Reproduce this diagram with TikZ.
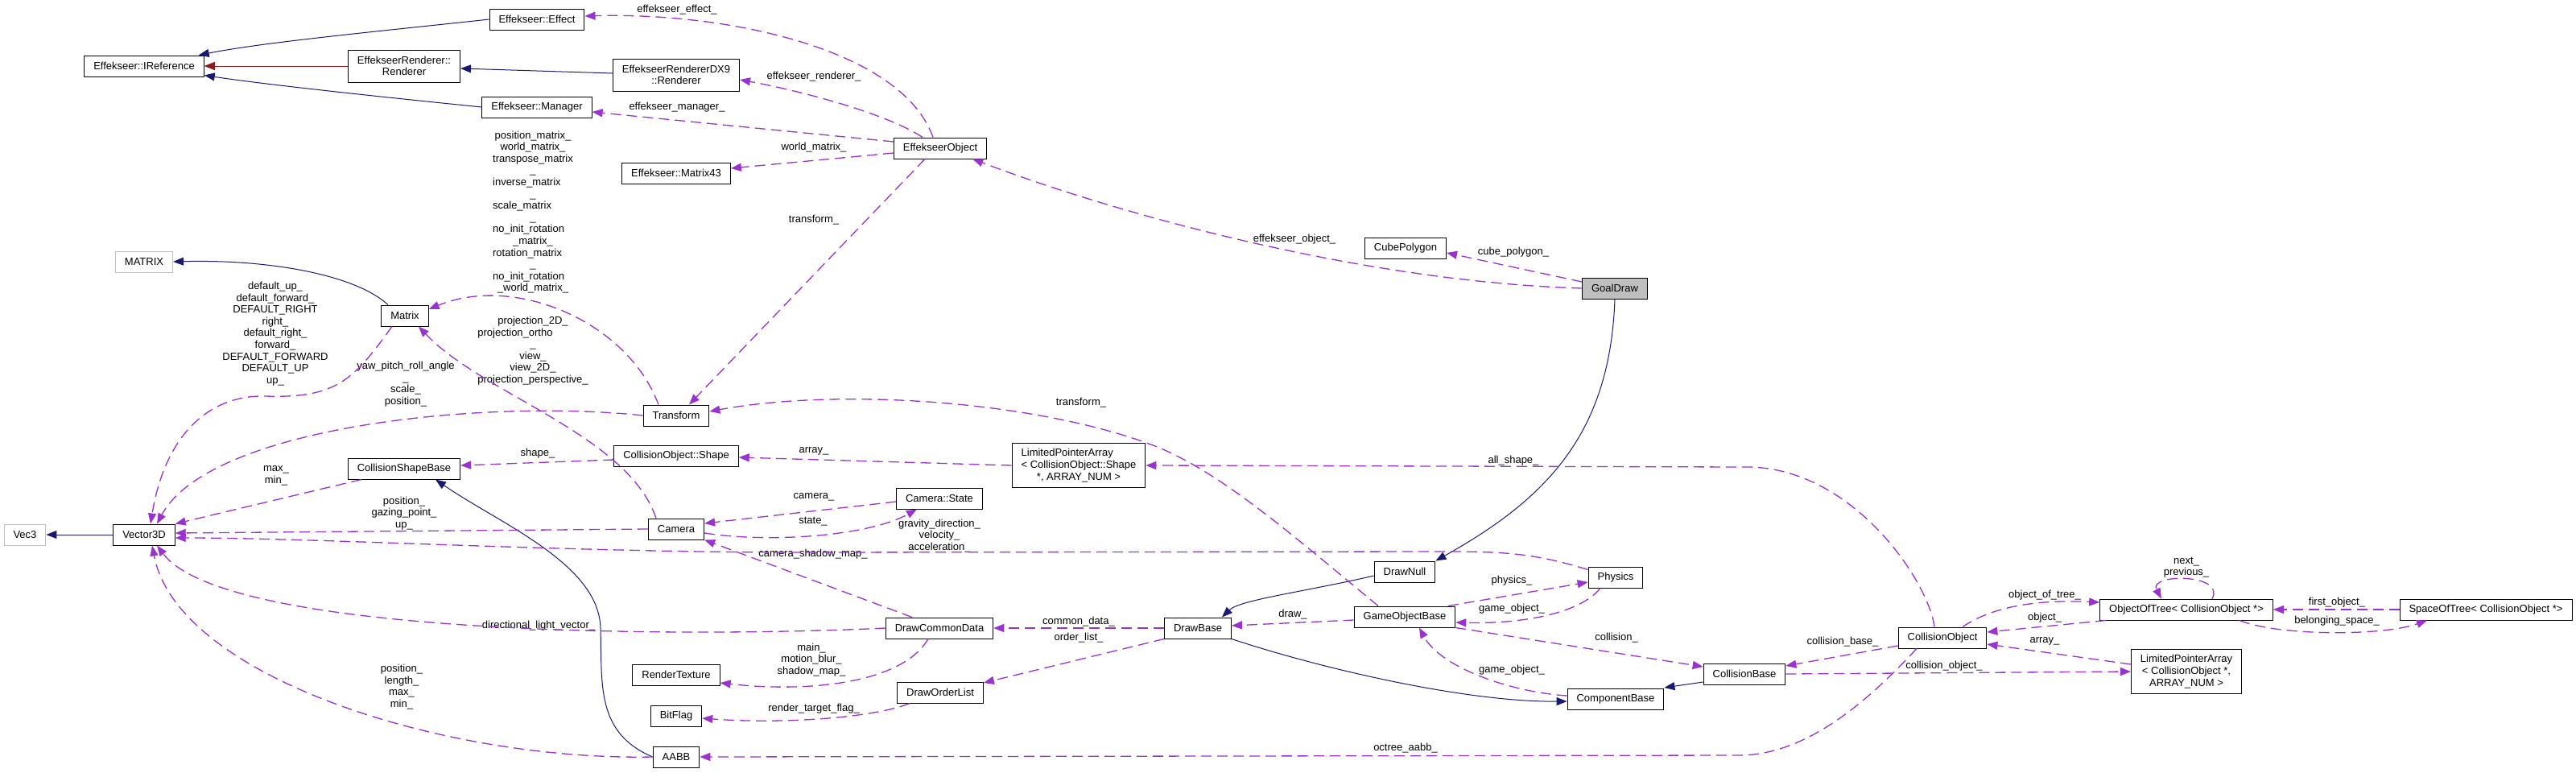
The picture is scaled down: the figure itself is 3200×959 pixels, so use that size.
\documentclass[tikz,border=0pt]{standalone}
\usepackage{fontspec}
\setmainfont{Liberation Sans}
\usetikzlibrary{arrows.meta}
\definecolor{usepurple}{RGB}{154,50,205}
\definecolor{inheritblue}{RGB}{25,25,112}
\definecolor{protectred}{RGB}{139,26,26}
\definecolor{extgrey}{RGB}{191,191,191}
\newcommand{\leftrow}[1]{\multicolumn{1}{@{}l@{}}{#1}}

\begin{document}
\begin{tikzpicture}[
        x=1pt, y=-1pt,
        font=\fontsize{13pt}{14.6pt}\selectfont,
        >={Triangle[length=13pt,width=10pt]},
        classbox/.style={draw=black, line width=1pt, fill=white, minimum height=26pt, inner xsep=11.5pt, inner ysep=6.5pt, align=center},
        extbox/.style={classbox, draw=extgrey},
        focusbox/.style={classbox, fill=extgrey},
        usearrow/.style={usepurple, ->, line width=1.3pt, dash pattern=on 13pt off 7pt},
        inheritarrow/.style={inheritblue, ->, line width=1pt},
        protarrow/.style={protectred, ->, line width=1pt},
        lbl/.style={inner sep=0pt, align=center}
    ]
    \useasboundingbox (0,0) rectangle (3200,959);

    % ==========================================
    % CLASSES
    % ==========================================
    \node[classbox] (iref) at (179,82) {Effekseer::IReference};
    \node[classbox, minimum height=40pt] (rend) at (502,82) {EffekseerRenderer::\\Renderer};
    \node[classbox] (eff) at (667,24) {Effekseer::Effect};
    \node[classbox] (mgr) at (667,133) {Effekseer::Manager};
    \node[classbox, minimum height=40pt] (dx9) at (840,93) {EffekseerRendererDX9\\::Renderer};
    \node[classbox] (m43) at (840,215) {Effekseer::Matrix43};
    \node[classbox] (eobj) at (1168,184) {EffekseerObject};
    \node[classbox] (cube) at (1746,308) {CubePolygon};
    \node[focusbox] (goal) at (2006,358) {GoalDraw};

    \node[extbox] (mtx) at (179,325) {MATRIX};
    \node[classbox] (matrix) at (503,392) {Matrix};
    \node[classbox] (trans) at (840,516) {Transform};
    \node[extbox] (vecthree) at (31,664) {Vec3};
    \node[classbox] (vec) at (179,664) {Vector3D};
    \node[classbox] (csb) at (502,582) {CollisionShapeBase};
    \node[classbox] (coshape) at (840,566) {CollisionObject::Shape};
    \node[classbox, minimum height=55pt] (lpashape) at (1340,578) {\rlap{LimitedPointerArray}\phantom{< CollisionObject::Shape}\\< CollisionObject::Shape\\*, ARRAY\_NUM >};
    \node[classbox] (cam) at (840,657) {Camera};
    \node[classbox] (camstate) at (1167,619) {Camera::State};

    \node[classbox] (dcd) at (1167,780) {DrawCommonData};
    \node[classbox] (rtex) at (840,838) {RenderTexture};
    \node[classbox] (bitflag) at (840,889) {BitFlag};
    \node[classbox] (aabb) at (840,940) {AABB};
    \node[classbox] (dol) at (1168,860) {DrawOrderList};
    \node[classbox] (dbase) at (1488,780) {DrawBase};
    \node[classbox] (dnull) at (1745,710) {DrawNull};
    \node[classbox] (gob) at (1745,766) {GameObjectBase};
    \node[classbox] (phys) at (2007,717) {Physics};
    \node[classbox] (comp) at (2007,868) {ComponentBase};
    \node[classbox] (cbase) at (2167,837) {CollisionBase};
    \node[classbox] (cobj) at (2413,792) {CollisionObject};
    \node[classbox] (oot) at (2716,757) {ObjectOfTree< CollisionObject *>};
    \node[classbox] (sot) at (3088,757) {SpaceOfTree< CollisionObject *>};
    \node[classbox, minimum height=55pt] (lpaco) at (2716,834) {LimitedPointerArray\\< CollisionObject *,\\ARRAY\_NUM >};

    % ==========================================
    % LABELS
    % ==========================================
    \node[lbl] (lbleffect) at (841,12) {effekseer\_effect\_};
    \node[lbl] (lblrenderer) at (1011,95) {effekseer\_renderer\_};
    \node[lbl] (lblmanager) at (841,133) {effekseer\_manager\_};
    \node[lbl] (lblworld) at (1011,183) {world\_matrix\_};
    \node[lbl] (lbletrans) at (1011,273) {transform\_};
    \node[lbl] (lblobject) at (1608,297) {effekseer\_object\_};
    \node[lbl] (lblcube) at (1880,313) {cube\_polygon\_};
    \node[lbl] (lblmatrices) at (662,264) {\begin{tabular}{@{}c@{}}
        position\_matrix\_\\ world\_matrix\_\\ transpose\_matrix\\ \_\\
        \leftrow{inverse\_matrix}\\ \_\\ \leftrow{scale\_matrix}\\ \_\\
        \leftrow{no\_init\_rotation}\\ \_matrix\_\\ \leftrow{rotation\_matrix}\\ \_\\
        \leftrow{no\_init\_rotation}\\ \_world\_matrix\_
    \end{tabular}};
    \node[lbl] (lbldirs) at (342,414.5) {default\_up\_\\default\_forward\_\\DEFAULT\_RIGHT\\right\_\\default\_right\_\\forward\_\\DEFAULT\_FORWARD\\DEFAULT\_UP\\up\_};
    \node[lbl] (lblyaw) at (504,477) {yaw\_pitch\_roll\_angle\\\_\\scale\_\\position\_};
    \node[lbl] (lblproj) at (662,436) {\begin{tabular}{@{}c@{}}
        projection\_2D\_\\ \leftrow{projection\_ortho}\\ \_\\ view\_\\ view\_2D\_\\ projection\_perspective\_
    \end{tabular}};
    \node[lbl] (lblminmax) at (343,590.5) {max\_\\min\_};
    \node[lbl] (lblshape) at (668,563) {shape\_};
    \node[lbl] (lblcamvec) at (502,637.5) {position\_\\gazing\_point\_\\up\_};
    \node[lbl] (lbllight) at (669,777) {directional\_light\_vector\_};
    \node[lbl] (lblaabb) at (499,853) {position\_\\length\_\\max\_\\min\_};
    \node[lbl] (lblgtrans) at (1343,500) {transform\_};
    \node[lbl] (lblarray) at (1011,560) {array\_};
    \node[lbl] (lblcamera) at (1011,617) {camera\_};
    \node[lbl] (lblstate) at (1010,648) {state\_};
    \node[lbl] (lblgravity) at (1167,665.5) {gravity\_direction\_\\velocity\_\\acceleration\_};
    \node[lbl] (lblshadow) at (1010,688) {camera\_shadow\_map\_};
    \node[lbl] (lblcommon) at (1340,772) {common\_data\_};
    \node[lbl] (lblorder) at (1340,792) {order\_list\_};
    \node[lbl] (lblmain) at (1008,819.5) {main\_\\motion\_blur\_\\shadow\_map\_};
    \node[lbl] (lblflag) at (1011,880) {render\_target\_flag\_};
    \node[lbl] (lbldraw) at (1606,763) {draw\_};
    \node[lbl] (lblallshape) at (1880,572) {all\_shape\_};
    \node[lbl] (lblphysics) at (1878,721) {physics\_};
    \node[lbl] (lblgobj) at (1878,756) {game\_object\_};
    \node[lbl] (lblcollision) at (2008,792) {collision\_};
    \node[lbl] (lblgobjb) at (1878,832) {game\_object\_};
    \node[lbl] (lblcbase) at (2289,797) {collision\_base\_};
    \node[lbl] (lbloctree) at (1746,929) {octree\_aabb\_};
    \node[lbl] (lblcobj) at (2415,827) {collision\_object\_};
    \node[lbl] (lblnext) at (2716,704.5) {next\_\\previous\_};
    \node[lbl] (lbltree) at (2540,739) {object\_of\_tree\_};
    \node[lbl] (lblobj) at (2540,767) {object\_};
    \node[lbl] (lblarrayb) at (2540,796) {array\_};
    \node[lbl] (lblfirst) at (2903,748) {first\_object\_};
    \node[lbl] (lblbelong) at (2903,771) {belonging\_space\_};

    % ==========================================
    % INHERITANCE
    % ==========================================
    \draw[inheritarrow] (eff.west) .. controls (480,38) and (330,52) .. ([xshift=-7pt]iref.north east);
    \draw[protarrow] (rend.west) -- (iref.east);
    \draw[inheritarrow] (mgr.west) .. controls (470,120) and (330,105) .. ([yshift=2pt]iref.south east);
    \draw[inheritarrow] ([yshift=2pt]dx9.west) -- ([yshift=-3pt]rend.east);
    \draw[inheritarrow] (goal.south) .. controls (2000,540) and (1920,620) .. (dnull.north east);
    \draw[inheritarrow] ([xshift=-21pt]matrix.north) .. controls (440,340) and (330,322) .. (mtx.east);
    \draw[inheritarrow] (vec.west) -- (vecthree.east);
    \draw[inheritarrow] (aabb.west) .. controls (740,910) and (748,850) .. (746,780) .. controls (744,700) and (620,650) .. ([xshift=39pt]csb.south);
    \draw[inheritarrow] ([yshift=-5pt]dnull.west) .. controls (1620,735) and (1540,745) .. ([xshift=30pt]dbase.north);
    \draw[inheritarrow] (dbase.south east) .. controls (1640,830) and (1820,872) .. ([yshift=-3pt]comp.west);
    \draw[inheritarrow] ([yshift=-10pt]cbase.west) -- ([yshift=14pt]comp.east);

    % ==========================================
    % USAGE: Effekseer side
    % ==========================================
    \draw[usearrow] ([xshift=-9pt]eobj.north) .. controls (1120,60) and (900,15) .. ([yshift=4pt]eff.east);
    \draw[usearrow] ([xshift=-22pt]eobj.north) .. controls (1100,140) and (990,112) .. ([yshift=-6pt]dx9.east);
    \draw[usearrow] ([yshift=8pt]eobj.west) -- ([yshift=-6pt]mgr.east);
    \draw[usearrow] ([yshift=-6pt]eobj.west) -- ([yshift=6pt]m43.east);
    \draw[usearrow] ([xshift=-19pt]eobj.south) -- ([xshift=16pt]trans.north);
    \draw[usearrow] (goal.west) .. controls (1700,350) and (1400,270) .. ([xshift=-18pt]eobj.south east);
    \draw[usearrow] ([yshift=8pt]goal.west) -- ([yshift=-6pt]cube.east);

    % ==========================================
    % USAGE: Matrix / Vector3D
    % ==========================================
    \draw[usearrow] ([xshift=-16pt]matrix.south) .. controls (440,470) and (420,495) .. (330,492) .. controls (260,490) and (205,540) .. ([xshift=8pt]vec.north);
    \draw[usearrow] ([xshift=-22pt]trans.north) .. controls (780,400) and (640,340) .. ([yshift=8pt]matrix.east);
    \draw[usearrow] ([xshift=-25pt]cam.north) .. controls (780,540) and (600,490) .. ([xshift=17pt]matrix.south);
    \draw[usearrow] (trans.west) .. controls (600,495) and (260,530) .. ([xshift=16pt]vec.north);
    \draw[usearrow] ([xshift=-53pt]csb.south) -- (vec.north east);
    \draw[usearrow] ([yshift=-5pt]coshape.west) -- ([yshift=4pt]csb.east);
    \draw[usearrow] (cam.west) -- ([yshift=2pt]vec.east);
    \draw[usearrow] ([yshift=-4pt]phys.north west) .. controls (1900,685) and (1860,685) .. (1780,685) -- (1000,686) .. controls (700,686) and (400,668) .. ([yshift=-4pt]vec.east);
    \draw[usearrow] (dcd.west) .. controls (850,792) and (280,790) .. ([xshift=16pt]vec.south);
    \draw[usearrow] (aabb.west) .. controls (550,945) and (220,840) .. ([xshift=10pt]vec.south);

    % ==========================================
    % USAGE: drawing / camera
    % ==========================================
    \draw[usearrow] ([xshift=-33pt]gob.north) .. controls (1600,660) and (1520,590) .. (1440,556) .. controls (1300,500) and (1050,480) .. ([yshift=5pt]trans.east);
    \draw[usearrow] (lpashape.west) -- ([yshift=-2pt]coshape.east);
    \draw[usearrow] ([xshift=-10pt]cobj.north) .. controls (2395,720) and (2300,580) .. (2170,580) -- (lpashape.east);
    \draw[usearrow] ([yshift=-4pt]camstate.west) -- ([yshift=7pt]cam.east);
    \draw[usearrow] ([yshift=-5pt]cam.east) .. controls (960,675) and (1080,665) .. ([xshift=-28pt]camstate.south);
    \draw[usearrow] ([xshift=-34pt]dcd.north) -- (cam.south east);
    \draw[usearrow] ([xshift=-14pt]dcd.south) .. controls (1120,850) and (1000,860) .. ([yshift=-10pt]rtex.east);
    \draw[usearrow] ([xshift=-38pt]dol.south) .. controls (1090,890) and (980,900) .. ([yshift=-3pt]bitflag.east);
    \draw[usearrow] (dbase.west) -- (dcd.east);
    \draw[usearrow] (dbase.south west) -- ([yshift=12pt]dol.east);
    \draw[usearrow] ([yshift=-4pt]gob.west) -- ([yshift=3pt]dbase.east);

    % ==========================================
    % USAGE: game objects / collision
    % ==========================================
    \draw[usearrow] ([xshift=54pt]gob.north) -- ([yshift=-6pt]phys.west);
    \draw[usearrow] ([xshift=-19pt]phys.south) .. controls (1960,765) and (1880,775) .. ([yshift=-7pt]gob.east);
    \draw[usearrow] (gob.south east) -- ([yshift=9pt]cbase.west);
    \draw[usearrow] ([yshift=4pt]comp.west) .. controls (1880,860) and (1790,830) .. ([xshift=18pt]gob.south);
    \draw[usearrow] ([yshift=-10pt]cobj.west) -- ([yshift=10pt]cbase.east);
    \draw[usearrow] (cbase.east) -- (lpaco.west);
    \draw[usearrow] ([xshift=-32pt]cobj.south) .. controls (2330,860) and (2250,938) .. (2160,938) -- (aabb.east);
    \draw[usearrow] ([xshift=25pt]cobj.north) .. controls (2480,750) and (2540,745) .. ([yshift=9pt]oot.west);
    \draw[usearrow] ([xshift=-100pt]oot.south) -- ([yshift=7pt]cobj.east);
    \draw[usearrow] ([yshift=9pt]lpaco.west) -- ([yshift=-8pt]cobj.east);
    \draw[usearrow] ([xshift=32pt]oot.north) .. controls (2765,712) and (2668,712) .. ([xshift=-31pt]oot.north);
    \draw[usearrow] (sot.west) -- (oot.east);
    \draw[usearrow] ([xshift=66pt]oot.south) .. controls (2830,790) and (2960,790) .. ([xshift=-73pt]sot.south);

\end{tikzpicture}
\end{document}
